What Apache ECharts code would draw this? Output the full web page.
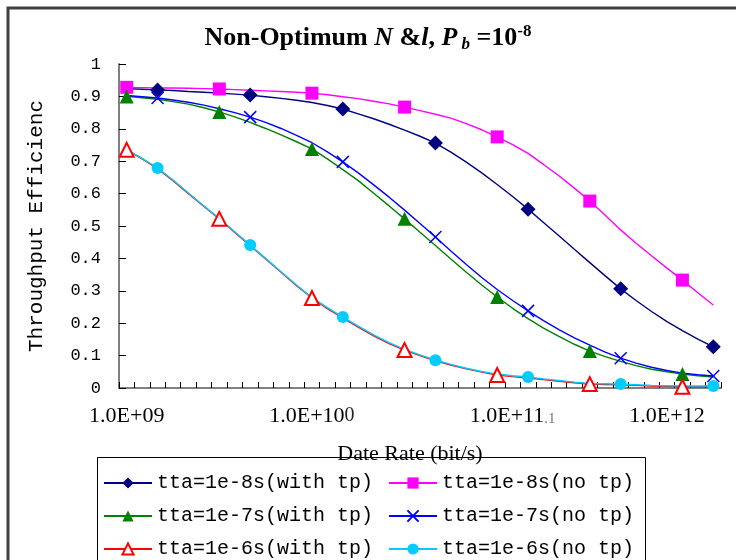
<!DOCTYPE html>
<html><head><meta charset="utf-8">
<script src="https://cdn.jsdelivr.net/npm/echarts@6/dist/echarts.min.js"></script>
<style>html,body{margin:0;padding:0;background:#fff}#c{width:736px;height:560px}</style>
</head><body><div id="c"></div>
<script>
// Data rate categories (bit/s), log-spaced
const rates = [
 '1.00E+09','1.21E+09','1.47E+09','1.78E+09','2.15E+09','2.61E+09','3.16E+09','3.83E+09','4.64E+09','5.62E+09','6.81E+09','8.25E+09',
 '1.00E+10','1.21E+10','1.47E+10','1.78E+10','2.15E+10','2.61E+10','3.16E+10','3.83E+10','4.64E+10','5.62E+10','6.81E+10','8.25E+10',
 '1.00E+11','1.21E+11','1.47E+11','1.78E+11','2.15E+11','2.61E+11','3.16E+11','3.83E+11','4.64E+11','5.62E+11','6.81E+11','8.25E+11',
 '1.00E+12','1.21E+12','1.47E+12'];
// x tick labels as they appear on the picture (category index -> text)
const xTickLabels = {0: '1.0E+09', 12: '1.0E+10{g|0}', 25: '1.0E+11{s|.1}', 35: '1.0E+12'};
const yTickMin = 0, yTickMax = 1, yTickStep = 0.1;

const names = ['tta=1e-8s(with tp)', 'tta=1e-8s(no tp)', 'tta=1e-7s(with tp)', 'tta=1e-7s(no tp)', 'tta=1e-6s(with tp)', 'tta=1e-6s(no tp)'];
const tta8WithTp = [.924,.922,.920,.918,.915,.913,.910,.907,.904,.899,.894,.888,.881,.872,.861,.846,.831,.814,.796,.777,.756,.728,.697,.664,.628,.591,.552,.511,.470,.428,.387,.346,.306,.270,.236,.205,.177,.151,.127];
const tta8NoTp   = [.928,.927,.926,.926,.925,.924,.923,.921,.919,.917,.915,.913,.910,.905,.899,.893,.885,.877,.867,.856,.845,.833,.816,.797,.775,.751,.724,.690,.655,.617,.577,.533,.488,.447,.408,.370,.333,.294,.256];
const tta7WithTp = [.900,.896,.891,.884,.876,.865,.852,.837,.820,.801,.781,.760,.738,.707,.674,.640,.601,.562,.522,.481,.440,.398,.357,.318,.281,.246,.214,.185,.159,.135,.114,.097,.082,.069,.058,.050,.043,.038,.034];
const tta7NoTp   = [.903,.899,.895,.889,.882,.873,.862,.850,.836,.820,.801,.780,.757,.729,.698,.664,.627,.589,.549,.508,.466,.423,.381,.341,.304,.270,.238,.208,.180,.155,.132,.111,.092,.077,.064,.054,.046,.041,.037];
const tta6WithTp = [.735,.707,.677,.640,.600,.560,.522,.480,.439,.398,.357,.316,.278,.245,.216,.188,.161,.137,.117,.100,.084,.071,.059,.049,.040,.035,.031,.026,.021,.016,.012,.011,.010,.008,.006,.005,.004,.004,.004];
const tta6NoTp   = [.736,.709,.679,.642,.602,.562,.523,.482,.441,.400,.359,.318,.279,.248,.219,.191,.164,.140,.119,.102,.086,.073,.061,.051,.043,.038,.034,.028,.023,.018,.014,.013,.012,.010,.008,.007,.006,.006,.006];

const chart = echarts.init(document.getElementById('c'), null, {renderer: 'canvas'});
const XPATH = 'path://M0,0L10,10M10,0L0,10';
function mk(name, data, color, symbol, size, offset, extra) {
  return Object.assign({
    name, type: 'line', data, smooth: false,
    showSymbol: true, showAllSymbol: true,
    symbol, symbolSize: (v, p) => (p && p.dataIndex !== undefined) ? (((p.dataIndex - offset) % 6 === 0 && p.dataIndex >= offset) ? size : 0) : size,
    lineStyle: {color, width: 1.4},
    itemStyle: {color},
    emphasis: {disabled: true},
    animation: false
  }, extra || {});
}
const serif = 'Liberation Serif';
const mono = 'Liberation Mono';
// legend slots: [name index, left, top]
const legendSlots = [[0, 103, 473], [1, 388, 473], [2, 103, 506], [3, 388, 506], [4, 103, 539], [5, 388, 539]];
const option = {
  backgroundColor: '#fff',
  animation: false,
  title: {
    text: '{a|Non-Optimum }{i|N}{a| &}{i|l}{a|, }{i|P}{sub| b}{a| =10}{sup|-8}',
    left: 'center', top: 23, padding: [0, 0, 0, 20],
    textStyle: {
      rich: {
        a: {fontFamily: serif, fontWeight: 'bold', fontSize: 26, color: '#000', lineHeight: 30},
        i: {fontFamily: serif, fontWeight: 'bold', fontStyle: 'italic', fontSize: 26, color: '#000', lineHeight: 30},
        sub: {fontFamily: serif, fontWeight: 'bold', fontStyle: 'italic', fontSize: 17, color: '#000', verticalAlign: 'bottom', lineHeight: 17},
        sup: {fontFamily: serif, fontWeight: 'bold', fontSize: 17, color: '#000', verticalAlign: 'top', lineHeight: 17}
      }
    }
  },
  grid: {left: 119, right: 15, top: 64, bottom: 172, containLabel: false, outerBoundsMode: 'none'},
  xAxis: {
    type: 'category', data: rates, boundaryGap: true,
    name: 'Date Rate (bit/s)', nameLocation: 'middle', nameGap: 55,
    nameTextStyle: {fontFamily: serif, fontSize: 22, color: '#000', padding: [0, 20, 0, 0]},
    axisLine: {lineStyle: {color: '#808080', width: 2}},
    axisTick: {show: true, inside: true, length: 6, interval: 0, alignWithLabel: false, lineStyle: {color: '#000', width: 1}},
    axisLabel: {
      interval: (i) => xTickLabels.hasOwnProperty(i),
      formatter: (v, i) => xTickLabels[i] || '',
      margin: 17, fontFamily: serif, fontSize: 22, color: '#000',
      rich: {
        g: {fontFamily: serif, fontSize: 20, color: '#222'},
        s: {fontFamily: serif, fontSize: 15, color: '#777', verticalAlign: 'bottom'}
      }
    },
    splitLine: {show: false}
  },
  yAxis: {
    type: 'value', min: yTickMin, max: yTickMax, interval: yTickStep,
    name: 'Throughput Efficiency', nameLocation: 'middle', nameGap: 72, nameRotate: 90,
    nameTruncate: {maxWidth: 254, ellipsis: ''},
    nameTextStyle: {fontFamily: mono, fontSize: 21, color: '#000'},
    axisLine: {show: true, lineStyle: {color: '#808080', width: 2}},
    axisTick: {show: true, inside: true, length: 7, lineStyle: {color: '#000', width: 1}},
    axisLabel: {
      margin: 18, fontFamily: mono, fontSize: 17, color: '#000',
      formatter: (v) => (v === 0 || v === 1) ? String(v) : v.toFixed(1)
    },
    splitLine: {show: false}
  },
  legend: legendSlots.map(([k, l, t]) => ({
    data: [names[k]], orient: 'horizontal', left: l, top: t, padding: 0,
    itemWidth: 48, itemHeight: 14, selectedMode: false,
    textStyle: {fontFamily: mono, fontSize: 20, color: '#000'}
  })),
  graphic: [
    {type: 'rect', shape: {x: 8, y: 8, width: 900, height: 900}, style: {fill: 'none', stroke: '#404040', lineWidth: 3}, silent: true},
    {type: 'rect', shape: {x: 97.5, y: 457.5, width: 548, height: 200}, style: {fill: 'none', stroke: '#000', lineWidth: 1}, silent: true}
  ],
  series: [
    mk(names[0], tta8WithTp, '#000080', 'diamond', 15, 2),
    mk(names[1], tta8NoTp, '#FF00FF', 'rect', 13, 0),
    mk(names[2], tta7WithTp, '#008000', 'triangle', 14, 0),
    mk(names[3], tta7NoTp, '#0000FF', XPATH, 12, 2, {itemStyle: {color: '#0000FF', borderColor: '#0000FF', borderWidth: 1.5}}),
    mk(names[4], tta6WithTp, '#FF0000', 'emptyTriangle', 14, 0, {itemStyle: {color: '#FF0000', borderWidth: 1.5}}),
    mk(names[5], tta6NoTp, '#00CCFF', 'circle', 12, 2)
  ]
};
chart.setOption(option);
</script>
</body></html>
